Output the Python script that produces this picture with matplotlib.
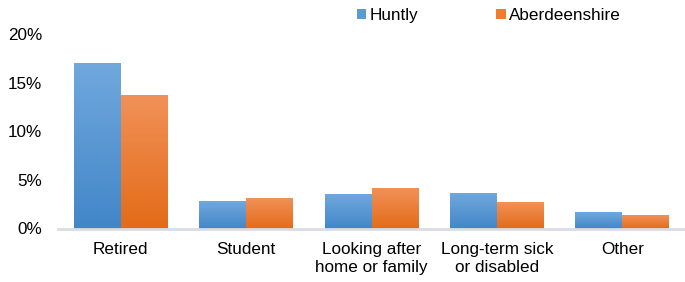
import matplotlib
matplotlib.use("Agg")
import matplotlib.pyplot as plt
import numpy as np
from matplotlib.colors import LinearSegmentedColormap
from matplotlib.patches import Patch

plt.rcParams['font.family'] = ['Liberation Sans', 'DejaVu Sans']

categories = ["Retired", "Student", "Looking after\nhome or family", "Long-term sick\nor disabled", "Other"]
huntly = [16.97, 2.82, 3.54, 3.64, 1.69]
aberdeenshire = [13.69, 3.13, 4.15, 2.72, 1.38]
series_names = ["Huntly", "Aberdeenshire"]
yticks = [0, 5, 10, 15, 20]
ytick_labels = ["0%", "5%", "10%", "15%", "20%"]

blue_top, blue_bot, blue_mid = "#70a8dd", "#4286c8", "#5b9bd5"
orange_top, orange_bot, orange_mid = "#f19158", "#e36b18", "#ed7d31"

FS = 12.3

fig = plt.figure(figsize=(6.85, 2.82), dpi=100)
ax = fig.add_axes([58/685, 1-228.5/282, 1-58/685, (228.5-34)/282])

x = np.arange(len(categories))
w = 0.374
b1 = ax.bar(x - w/2, huntly, w, color=blue_mid, zorder=2)
b2 = ax.bar(x + w/2, aberdeenshire, w, color=orange_mid, zorder=2)

grad = np.linspace(0, 1, 256).reshape(-1, 1)
for bars, top, bot in [(b1, blue_top, blue_bot), (b2, orange_top, orange_bot)]:
    cmap = LinearSegmentedColormap.from_list("g", [bot, top])
    for bar in bars:
        x0, y0 = bar.get_x(), bar.get_y()
        bw, bh = bar.get_width(), bar.get_height()
        im = ax.imshow(grad, cmap=cmap, aspect='auto', origin='lower',
                       extent=[x0, x0 + bw, y0, y0 + bh], zorder=3)
        im.set_clip_path(bar)

ax.set_xlim(-0.5, len(categories) - 0.5)
ax.set_ylim(0, 20)
ax.set_yticks(yticks)
ax.set_yticklabels(ytick_labels)
ax.set_xticks(x)
ax.set_xticklabels(categories, linespacing=1.3)
ax.tick_params(axis='both', length=0, labelsize=FS, colors="#000000")
ax.tick_params(axis='x', pad=9.5)
ax.tick_params(axis='y', pad=11.5)
for s in ['top', 'right', 'left']:
    ax.spines[s].set_visible(False)
ax.spines['bottom'].set_color("#d9dde3")
ax.spines['bottom'].set_linewidth(2)
ax.spines['bottom'].set_zorder(4)

handles = [Patch(facecolor=blue_mid), Patch(facecolor=orange_mid)]
fig.legend(handles, series_names, loc='upper left', bbox_to_anchor=(357/685, 1 - 8/282),
           ncol=2, frameon=False, fontsize=FS, handlelength=0.55, handleheight=0.55,
           handletextpad=0.2, columnspacing=4.55, borderaxespad=0, borderpad=0)

fig.savefig("out.png", dpi=100)
